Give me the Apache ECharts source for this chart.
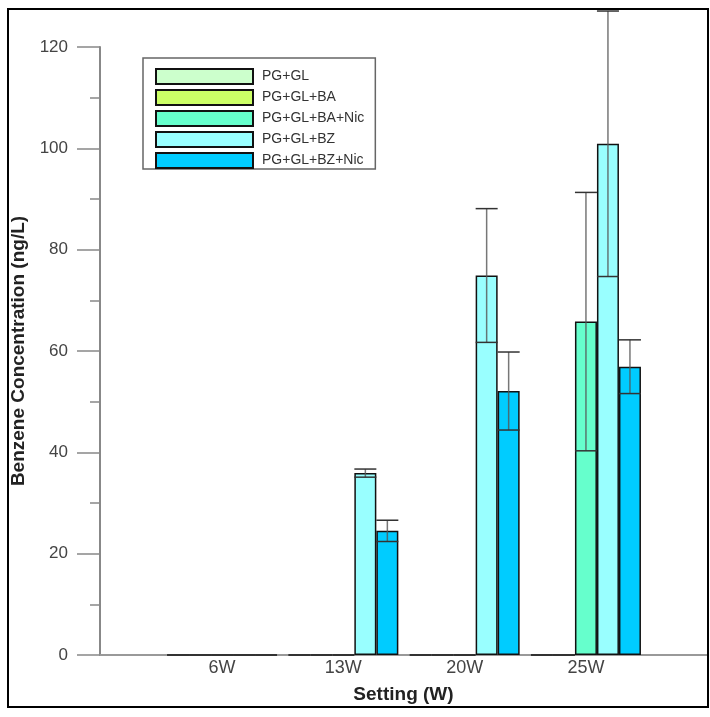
<!DOCTYPE html>
<html>
<head>
<meta charset="utf-8">
<script src="https://cdn.jsdelivr.net/npm/echarts@6/dist/echarts.min.js"></script>
<style>
html,body{margin:0;padding:0;background:#fff;}
#c{width:710px;height:717px;}
</style>
</head>
<body>
<div id="c"></div>
<script>
// ---- data ----
const categories = ['6W', '13W', '20W', '25W'];
const seriesNames = ['PG+GL', 'PG+GL+BA', 'PG+GL+BA+Nic', 'PG+GL+BZ', 'PG+GL+BZ+Nic'];
const pgGl = [0, 0, 0, 0];
const pgGlBa = [0, 0, 0, 0];
const pgGlBaNic = [0, 0, 0, 65.8];
const pgGlBz = [0, 35.9, 74.9, 100.9];
const pgGlBzNic = [0, 24.5, 52.1, 56.9];
const errPgGl = [0, 0, 0, 0];
const errPgGlBa = [0, 0, 0, 0];
const errPgGlBaNic = [0, 0, 0, 25.5];
const errPgGlBz = [0, 0.8, 13.2, 26.2];
const errPgGlBzNic = [0, 2.1, 7.7, 5.3];
const yTicks = [0, 20, 40, 60, 80, 100, 120];

// ---- styling ----
const colors = ['#ccffcc', '#ccff66', '#66ffcc', '#99ffff', '#00ccff'];
const BAR_W = 22;
const values = [pgGl, pgGlBa, pgGlBaNic, pgGlBz, pgGlBzNic];
const errs = [errPgGl, errPgGlBa, errPgGlBaNic, errPgGlBz, errPgGlBzNic];

const errData = [];
values.forEach((vals, j) => {
  vals.forEach((v, i) => {
    const e = errs[j][i];
    if (e > 0) errData.push([i, v - e, v + e, j]);
  });
});

const chart = echarts.init(document.getElementById('c'));
const fontFam = '"Liberation Sans", Arial, sans-serif';

const barSeries = seriesNames.map((name, j) => ({
  name: name,
  type: 'bar',
  xAxisIndex: 1,
  yAxisIndex: 1,
  data: values[j],
  barWidth: BAR_W,
  barGap: '0%',
  itemStyle: { color: colors[j], borderColor: '#111', borderWidth: 1.5 },
  emphasis: { disabled: true },
  z: 2
}));

const errSeries = {
  type: 'custom',
  xAxisIndex: 1,
  yAxisIndex: 1,
  clip: false,
  z: 5,
  silent: true,
  data: errData,
  renderItem: function (params, api) {
    const cat = api.value(0), lo = api.value(1), hi = api.value(2), j = api.value(3);
    const base = api.coord([cat, 0]);
    const x = base[0] + (j - 2) * BAR_W;
    const yTop = api.coord([cat, hi])[1];
    const yBot = api.coord([cat, lo])[1];
    const hw = BAR_W / 2;
    const st = { stroke: '#333', lineWidth: 1.5 };
    return {
      type: 'group',
      children: [
        { type: 'line', shape: { x1: x, y1: yTop, x2: x, y2: yBot }, style: { stroke: '#555', lineWidth: 1.5, opacity: 0.8 } },
        { type: 'line', shape: { x1: x - hw, y1: yTop, x2: x + hw, y2: yTop }, style: st },
        { type: 'line', shape: { x1: x - hw, y1: yBot, x2: x + hw, y2: yBot }, style: st }
      ]
    };
  }
};

const option = {
  animation: false,
  backgroundColor: '#fff',
  textStyle: { fontFamily: fontFam },
  legend: {
    orient: 'vertical',
    left: 143,
    top: 58,
    data: seriesNames.map(n => ({ name: n, icon: 'rect' })),
    itemWidth: 97,
    itemHeight: 15,
    itemGap: 4,
    padding: [10, 11, 0, 12],
    borderColor: '#666',
    borderWidth: 1.5,
    backgroundColor: '#fff',
    selectedMode: false,
    textStyle: { fontSize: 14, lineHeight: 15, color: '#333', fontFamily: fontFam, padding: [0, 0, 0, 4] }
  },
  graphic: [{
    type: 'rect',
    shape: { x: 8, y: 9, width: 700, height: 698 },
    style: { fill: 'none', stroke: '#000', lineWidth: 2 },
    silent: true,
    z: 100
  }],
  grid: [
    { left: 100, right: 3, top: 47, bottom: 62 },
    { left: 161.4, right: 63.4, top: 47, bottom: 62 }
  ],
  xAxis: [
    {
      gridIndex: 0, type: 'value', min: 0, max: 1,
      axisLine: { show: true, lineStyle: { color: '#999', width: 2 } },
      axisTick: { show: false }, axisLabel: { show: false }, splitLine: { show: false },
      name: 'Setting (W)', nameLocation: 'middle', nameGap: 30,
      nameTextStyle: { fontSize: 19, fontWeight: 'bold', color: '#222', fontFamily: fontFam }
    },
    {
      gridIndex: 1, type: 'category', data: categories,
      axisLine: { show: false }, axisTick: { show: false },
      axisLabel: { fontSize: 18, color: '#444', margin: 4, fontFamily: fontFam },
      splitLine: { show: false }
    }
  ],
  yAxis: [
    {
      gridIndex: 0, type: 'value', min: 0, max: 120, interval: 20,
      axisLine: { show: true, lineStyle: { color: '#888', width: 2 } },
      axisTick: { show: true, length: 23, lineStyle: { color: '#888', width: 1.5 } },
      minorTick: { show: true, splitNumber: 2, length: 10, lineStyle: { color: '#888', width: 1.5 } },
      axisLabel: { fontSize: 17, color: '#444', margin: 32, fontFamily: fontFam,
        formatter: function (v) { return yTicks.indexOf(v) >= 0 ? String(v) : ''; } },
      splitLine: { show: false },
      name: 'Benzene Concentration (ng/L)', nameLocation: 'middle', nameGap: 62,
      nameTextStyle: { fontSize: 19, fontWeight: 'bold', color: '#222', fontFamily: fontFam }
    },
    {
      gridIndex: 1, type: 'value', min: 0, max: 120, interval: 20, show: false
    }
  ],
  series: barSeries.concat([errSeries])
};
chart.setOption(option);
</script>
</body>
</html>
